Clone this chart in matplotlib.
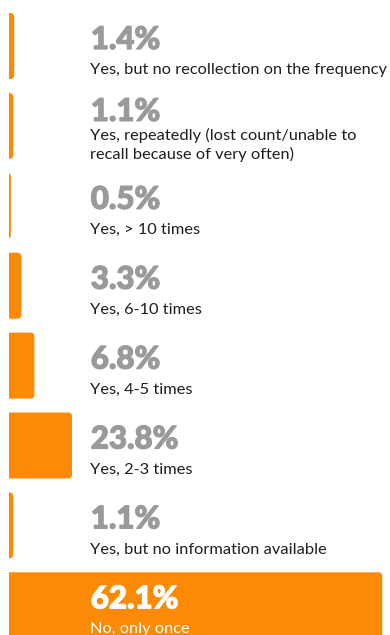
import matplotlib.pyplot as plt
import matplotlib.patheffects as pe
from matplotlib.patches import FancyBboxPatch
from matplotlib.transforms import blended_transform_factory, offset_copy

# answers, top to bottom
categories = [
    "Yes, but no recollection on the frequency",
    "Yes, repeatedly (lost count/unable to\nrecall because of very often)",
    "Yes, > 10 times",
    "Yes, 6-10 times",
    "Yes, 4-5 times",
    "Yes, 2-3 times",
    "Yes, but no information available",
    "No, only once",
]
values = [1.4, 1.1, 0.5, 3.3, 6.8, 23.8, 1.1, 62.1]

ORANGE = "#FD8A04"
GREY = "#9A9A9C"
DARK = "#1E1E1E"

W, H = 390, 635
fig = plt.figure(figsize=(W / 100, H / 100), dpi=100)
fig.patch.set_facecolor("white")

# axes: bars start at the left edge, percent scale 0-100
left_px, right_px = 9, 386
ax = fig.add_axes([left_px / W, 0, (right_px - left_px) / W, 1])
ax.set_xlim(0, 101)
pitch = 79.9       # px per row
first_center = 46  # px from top
ax.set_ylim((H - first_center) / pitch, -first_center / pitch)
ax.axis("off")

px_x = (right_px - left_px) / 101.0   # px per percent
bar_h = 66 / pitch
radius = 4 / px_x
aspect = (4 / pitch) / radius

# labels sit in a column; bars stop short of it, the top answer fills the row
text_x_px = 90
cap = (text_x_px - 18 - left_px) / px_x
top = max(values)
line_step = 19

trans = blended_transform_factory(fig.transFigure, ax.transData)

for i, (cat, v) in enumerate(zip(categories, values)):
    if v == top:
        w = 100
    else:
        w = min(v, cap)
    box = FancyBboxPatch((-3, i - bar_h / 2), w + 3, bar_h,
                         boxstyle="round,pad=0,rounding_size=%f" % radius,
                         mutation_aspect=aspect, fc=ORANGE, ec="none", clip_on=True)
    ax.add_patch(box)

    lines = cat.split("\n")
    extra = len(lines) - 1
    pct_col = "white" if v == top else GREY
    lab_col = "white" if v == top else DARK
    pct_y = 3 - 8 * extra
    ax.text(text_x_px / W + 0.002, i, "{:.1f}%".format(v),
            transform=offset_copy(trans, fig=fig, y=-pct_y, units="dots"),
            ha="left", va="baseline", fontsize=22.5, fontweight="black",
            family="Lato", color=pct_col,
            path_effects=[pe.withStroke(linewidth=0.9, foreground=pct_col)])
    for k, line in enumerate(lines):
        lab_y = 28 - 14 * extra + k * line_step
        ax.text(text_x_px / W, i, line,
                transform=offset_copy(trans, fig=fig, y=-lab_y, units="dots"),
                ha="left", va="baseline", fontsize=11.8, family="Lato",
                color=lab_col)

fig.savefig("out.png", dpi=100)
